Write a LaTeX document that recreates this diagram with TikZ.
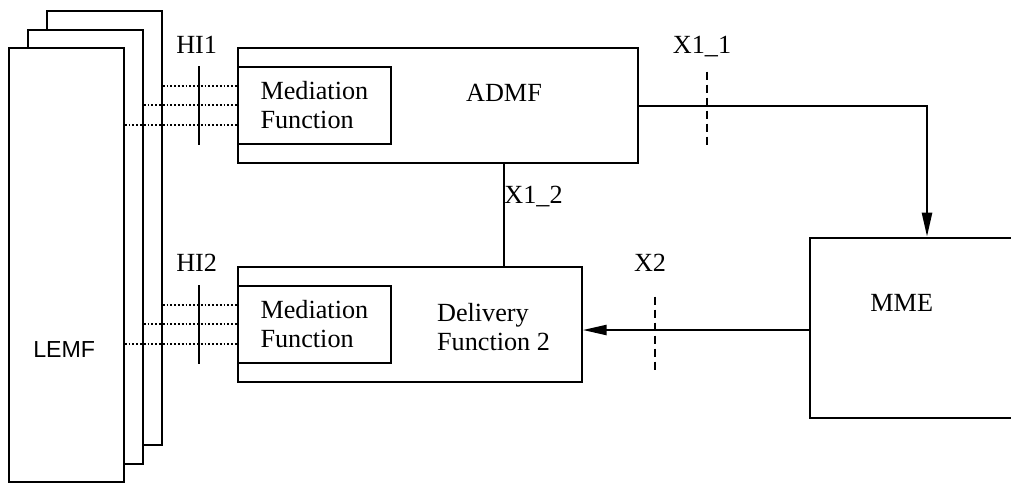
\documentclass[tikz,border=0pt]{standalone}
\usepackage{fontspec}
\setmainfont{Liberation Serif}
\newfontfamily\lemffont{Liberation Sans}
\usetikzlibrary{arrows.meta,calc,positioning}

\begin{document}
\begin{tikzpicture}[x=0.5pt,y=-0.5pt,>={Triangle[length=12pt,width=5pt]},
  font=\fontsize{13.1}{14.5}\selectfont,
  box/.style={draw,line width=1pt,fill=white,anchor=north west,inner sep=0pt},
  lemfbox/.style={box,minimum width=57.5pt,minimum height=217pt},
  medbox/.style={box,minimum width=76.7pt,minimum height=38.3pt,align=left},
  dotline/.style={line width=0.9pt,dash pattern=on 0.9pt off 1pt},
  cutline/.style={line width=1pt,dash pattern=on 4pt off 2.5pt},
  flow/.style={->,line width=1.2pt}]
\useasboundingbox (0,0) rectangle (1011,484);
% LEMF stack
\node[lemfbox] (lemfC) at (45.7,10) {};
\node[lemfbox] (lemfB) at (26.7,28.5) {};
\node[lemfbox] (lemfA) at (7.7,47) {};
\node[font=\lemffont\fontsize{11.6}{13}\selectfont] (lemftxt) at (64.2,350) {LEMF};
% function boxes
\node[box,minimum width=200.2pt,minimum height=57.3pt] (admf) at (236.7,47) {};
\node[medbox] (med1) at (236.7,66) {Mediation\\Function};
\node[box,minimum width=172pt,minimum height=57.3pt] (deliv) at (236.7,266) {};
\node[medbox] (med2) at (236.7,285) {Mediation\\Function};
\node[box,minimum width=117pt,minimum height=90pt] (mme) at (809,236.7) {};
\node (admftxt) at (504,93.3) {ADMF};
\node[anchor=west,align=left,inner sep=0pt] (delivtxt) at (436.7,327) {Delivery\\Function 2};
\node (mmetxt) at (901.7,302.7) {MME};
% HI dotted links
\foreach \s/\d [count=\i] in {lemfC/9.7pt,lemfB/0pt,lemfA/-9.7pt} {
  \coordinate (ma\i) at ([yshift=\d]med1.west);
  \coordinate (mb\i) at ([yshift=\d]med2.west);
  \draw[dotline] (\s.east |- ma\i) -- (ma\i);
  \draw[dotline] (\s.east |- mb\i) -- (mb\i);
}
\coordinate (hi1) at (199,104);
\coordinate (hi2) at (199,323);
\draw[line width=1pt] (hi1 |- med1.north) -- (hi1 |- med1.south);
\draw[line width=1pt] (hi2 |- med2.north) -- (hi2 |- med2.south);
\node (hi1txt) at (196.7,45) {HI1};
\node (hi2txt) at (196.7,263.3) {HI2};
% X interfaces
\coordinate (x12) at (503.6,200);
\draw[line width=1pt] (admf.south -| x12) -- (deliv.north -| x12);
\node[anchor=west,inner sep=0pt] (x12txt) at (504,196.7) {X1\_2};
\coordinate (x11) at (926.4,106);
\draw[flow] (admf.east |- x11) -| (mme.north);
\coordinate (x11a) at (706.8,71.7);
\coordinate (x11b) at (706.8,147.3);
\draw[cutline] (x11a) -- (x11b);
\node (x11txt) at (702,46.7) {X1\_1};
\coordinate (x2) at (655,330);
\draw[flow] (mme.west |- x2) -- (deliv.east |- x2);
\draw[cutline] (655,296.7) -- (655,372.7);
\node (x2txt) at (650,263.3) {X2};
\end{tikzpicture}
\end{document}
